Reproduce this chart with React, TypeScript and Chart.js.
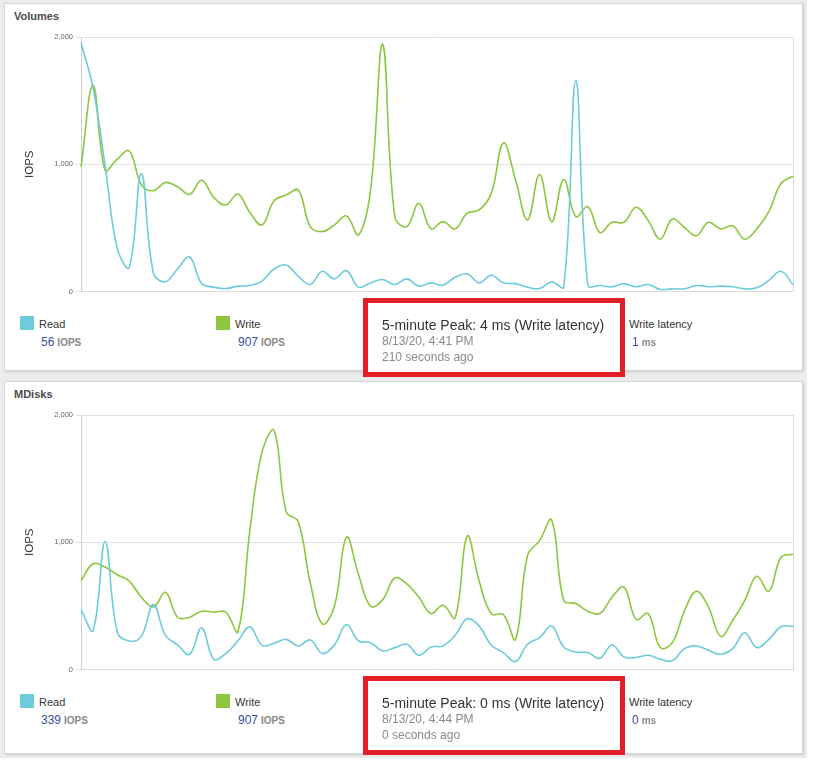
import { useEffect, useRef } from "react";
import { Chart, registerables } from "chart.js";

Chart.register(...registerables);

const FONT = 'Arial, "Liberation Sans", sans-serif';
const READ_COLOR = "#6dcbdc";
const WRITE_COLOR = "#8dc63f";

// valori (IOPS), circa ogni 12px
const volumesRead = [
  1955, 1600, 990, 341, 190, 927, 146, 76, 177, 271,
  62, 34, 23, 42, 47, 81, 177, 208, 120, 55,
  159, 99, 164, 34, 68, 94, 55, 99, 42, 68,
  49, 112, 138, 68, 128, 68, 62, 34, 23, 76,
  34, 1656, 49, 47, 37, 62, 37, 55, 16, 21,
  21, 47, 37, 42, 37, 21, 29, 88, 159, 55,
];
const volumesWrite = [
  980, 1620, 953, 1040, 1104, 840, 792, 857, 823, 763,
  875, 740, 680, 766, 620, 523, 713, 758, 797, 510,
  471, 523, 594, 445, 800, 1943, 588, 510, 693, 492,
  549, 492, 615, 641, 771, 1167, 880, 563, 919, 549,
  880, 588, 666, 463, 544, 544, 662, 557, 411, 570,
  503, 438, 544, 492, 516, 411, 492, 627, 849, 906,
];
const mdisksRead = [
  471, 307, 1005, 297, 224, 260, 510, 268, 193, 120,
  328, 81, 125, 224, 336, 190, 206, 237, 185, 232,
  125, 193, 354, 224, 211, 146, 172, 198, 112, 177,
  185, 268, 398, 341, 190, 133, 62, 198, 250, 341,
  177, 138, 133, 88, 193, 99, 94, 112, 81, 68,
  164, 185, 151, 120, 164, 289, 172, 237, 336, 339,
];
const mdisksWrite = [
  698, 831, 805, 745, 695, 568, 492, 607, 411, 411,
  458, 451, 451, 297, 1100, 1710, 1878, 1240, 1162, 680,
  359, 497, 1039, 745, 497, 549, 719, 672, 568, 440,
  505, 406, 1049, 693, 438, 432, 237, 896, 1013, 1174,
  542, 518, 458, 440, 568, 648, 393, 440, 172, 211,
  458, 615, 490, 260, 385, 542, 732, 615, 880, 906,
];
const timeSlots = volumesRead.map((_, i) => String(i));
const yTicks = [0, 1000, 2000];

// bordo destro dell'area del grafico
const frame = {
  id: "frame",
  beforeDatasetsDraw(chart: any) {
    const { ctx, chartArea } = chart;
    ctx.save();
    ctx.strokeStyle = "#dcdcdc";
    ctx.lineWidth = 1;
    ctx.beginPath();
    ctx.moveTo(Math.round(chartArea.right) + 0.5, chartArea.top);
    ctx.lineTo(Math.round(chartArea.right) + 0.5, chartArea.bottom);
    ctx.stroke();
    ctx.restore();
  },
};

function IopsChart({ read, write }: { read: number[]; write: number[] }) {
  const chartRef = useRef<any>(null);
  const canvasRef = useRef<HTMLCanvasElement>(null);

  useEffect(() => {
    chartRef.current = new Chart(canvasRef.current!, {
      type: "line",
      data: {
        labels: timeSlots,
        datasets: [
          { label: "Read", data: read, borderColor: READ_COLOR, backgroundColor: READ_COLOR },
          { label: "Write", data: write, borderColor: WRITE_COLOR, backgroundColor: WRITE_COLOR },
        ],
      },
      options: {
        animation: false,
        responsive: true,
        maintainAspectRatio: false,
        layout: { padding: { top: 10, right: 5, bottom: 5, left: 0 } },
        elements: {
          point: { radius: 0 },
          line: { tension: 0.4, borderWidth: 1.6 },
        },
        plugins: { legend: { display: false }, tooltip: { enabled: false } },
        scales: {
          x: {
            ticks: { display: false },
            grid: { display: false, drawTicks: false },
            border: { color: "#dcdcdc" },
            afterFit: (s: any) => { s.height = 0; },
          },
          y: {
            min: 0,
            max: 2000,
            afterBuildTicks: (s: any) => { s.ticks = yTicks.map((v) => ({ value: v })); },
            ticks: {
              font: { size: 7.5, family: FONT },
              color: "#666",
              padding: 3,
              callback: (v: any) => Number(v).toLocaleString("en-US"),
            },
            grid: { color: "#e2e2e2", tickLength: 5 },
            border: { color: "#cfcfcf" },
            title: {
              display: true,
              text: "IOPS",
              color: "#333",
              font: { size: 11.5, family: FONT },
              padding: { top: 9, bottom: 0 },
            },
            afterFit: (s: any) => { s.width = 67; },
          },
        },
      },
      plugins: [frame],
    });
    return () => chartRef.current?.destroy();
  }, [read, write]);

  return <canvas ref={canvasRef} />;
}

const abs = (left: number, top: number, extra: any = {}) => ({
  position: "absolute" as const,
  left,
  top,
  whiteSpace: "nowrap" as const,
  fontFamily: FONT,
  ...extra,
});

function Value({ num, unit }: { num: string; unit: string }) {
  return (
    <>
      <span style={{ fontSize: 12, color: "#34509f" }}>{num}</span>
      <span style={{ fontSize: 10, color: "#888", fontWeight: "bold", marginLeft: 3 }}>{unit}</span>
    </>
  );
}

function Panel(props: {
  dy: number; height: number; title: string; read: number[]; write: number[];
  readNow: string; writeNow: string; latency: string; peak: string; when: string; ago: string;
}) {
  const { dy } = props;
  return (
    <>
      <div style={abs(4, 3 + dy, { width: 799, height: props.height, background: "#fff", border: "1px solid #d6d6d6", boxSizing: "border-box", boxShadow: "1px 1px 2px rgba(0,0,0,0.12)" })} />
      <div style={abs(14, 10 + dy, { fontSize: 11, lineHeight: "13px", fontWeight: "bold", color: "#4a4a4a" })}>{props.title}</div>
      <div style={abs(14, 27 + dy, { width: 784, height: 272 })}>
        <IopsChart read={props.read} write={props.write} />
      </div>

      <div style={abs(20, 316 + dy, { width: 14, height: 14, background: READ_COLOR })} />
      <div style={abs(39, 317 + dy, { fontSize: 11, lineHeight: "14px", color: "#333" })}>Read</div>
      <div style={abs(41, 334 + dy, { lineHeight: "14px" })}><Value num={props.readNow} unit="IOPS" /></div>

      <div style={abs(216, 316 + dy, { width: 14, height: 14, background: WRITE_COLOR })} />
      <div style={abs(235, 317 + dy, { fontSize: 11, lineHeight: "14px", color: "#333" })}>Write</div>
      <div style={abs(238, 334 + dy, { lineHeight: "14px" })}><Value num={props.writeNow} unit="IOPS" /></div>

      <div style={abs(629, 317 + dy, { fontSize: 11, lineHeight: "14px", color: "#333" })}>Write latency</div>
      <div style={abs(632, 334 + dy, { lineHeight: "14px" })}><Value num={props.latency} unit="ms" /></div>

      <div style={abs(363, 298 + dy, { width: 262, height: 79, border: "5px solid #e41e26", boxSizing: "border-box", background: "#fff" })} />
      <div style={abs(382, 317 + dy, { fontSize: 14, lineHeight: "16px", color: "#333" })}>{props.peak}</div>
      <div style={abs(382, 334 + dy, { fontSize: 12, lineHeight: "14px", color: "#8a8a8a" })}>{props.when}</div>
      <div style={abs(382, 349.5 + dy, { fontSize: 12, lineHeight: "14px", color: "#8a8a8a" })}>{props.ago}</div>
    </>
  );
}

export default function App() {
  return (
    <div style={{ position: "absolute", left: 0, top: 0, width: 807, height: 758, background: "#ececec" }}>
      <Panel
        dy={0} height={368} title="Volumes" read={volumesRead} write={volumesWrite}
        readNow="56" writeNow="907" latency="1"
        peak="5-minute Peak: 4 ms (Write latency)" when="8/13/20, 4:41 PM" ago="210 seconds ago"
      />
      <Panel
        dy={378} height={373} title="MDisks" read={mdisksRead} write={mdisksWrite}
        readNow="339" writeNow="907" latency="0"
        peak="5-minute Peak: 0 ms (Write latency)" when="8/13/20, 4:44 PM" ago="0 seconds ago"
      />
    </div>
  );
}
